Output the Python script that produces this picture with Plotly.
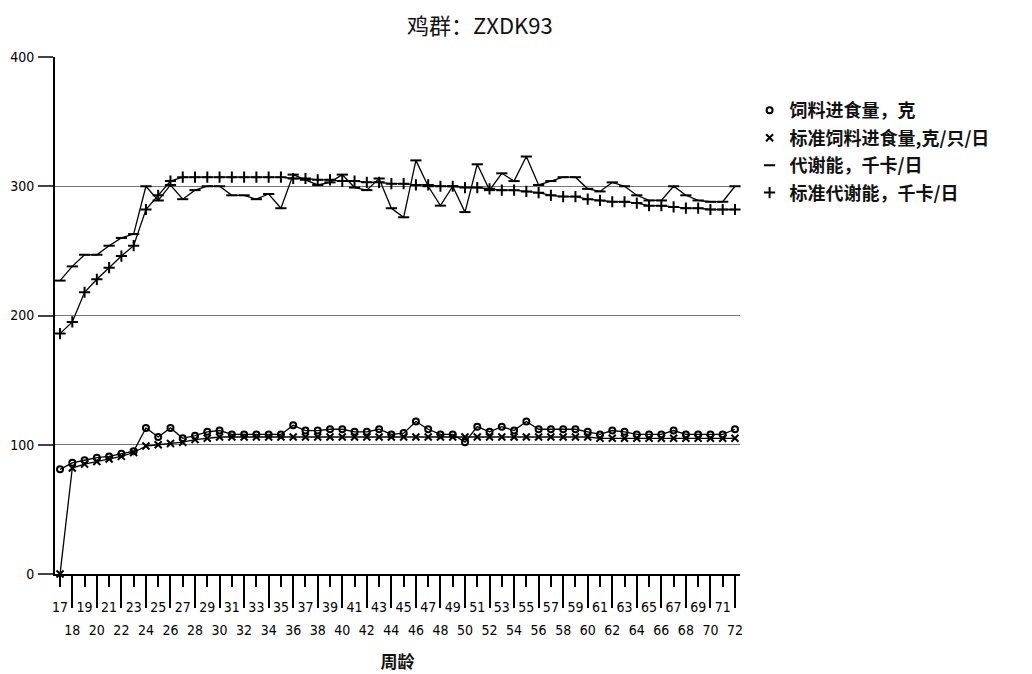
import plotly.graph_objects as go

weeks = list(range(17, 73))

feed_intake = [81, 86, 88, 90, 91, 93, 95, 113, 106, 113, 105, 107, 110, 111, 108, 108, 108, 108, 108,
               115, 111, 111, 112, 112, 110, 110, 112, 108, 109, 118, 112, 108, 108, 102, 114, 110,
               114, 111, 118, 112, 112, 112, 112, 110, 108, 111, 110, 108, 108, 108, 111, 108, 108,
               108, 108, 112]
std_feed = [0, 82, 85, 87, 89, 91, 94, 99, 100, 101, 102, 104, 105, 106, 106, 106, 106, 106, 106,
            106, 106, 106, 106, 106, 106, 106, 106, 106, 106, 106, 106, 106, 106, 106, 106, 106,
            106, 106, 106, 106, 106, 106, 106, 106, 105, 105, 105, 105, 105, 105, 105, 105, 105,
            105, 105, 105]
me = [227, 238, 247, 247, 254, 260, 263, 300, 289, 301, 290, 297, 300, 300, 293, 293, 290, 294, 283,
      309, 305, 301, 303, 309, 299, 297, 306, 283, 276, 320, 300, 285, 300, 280, 317, 297,
      310, 304, 323, 301, 304, 307, 307, 298, 296, 303, 300, 293, 289, 289, 300, 293, 289,
      288, 288, 300]
std_me = [186, 195, 218, 228, 237, 246, 254, 282, 293, 304, 307, 307, 307, 307, 307, 307, 307, 307, 307,
          306, 306, 305, 305, 304, 304, 303, 303, 302, 302, 301, 301, 300, 300, 299, 299, 298,
          297, 297, 296, 295, 293, 292, 292, 290, 289, 288, 288, 287, 285, 285, 284, 283, 283,
          282, 282, 282]

series_names = ["饲料进食量，克", "标准饲料进食量,克/只/日", "代谢能，千卡/日", "标准代谢能，千卡/日"]
series_values = [feed_intake, std_feed, me, std_me]
series_symbols = ["circle-open", "x-thin-open", "line-ew-open", "cross-thin-open"]
series_sizes = [6, 7, 8, 8]

y_ticks = [0, 100, 200, 300, 400]
odd_weeks = weeks[::2]
even_weeks = weeks[1::2]

narrow = "Liberation Sans Narrow, DejaVu Sans Condensed, Arial Narrow, sans-serif"
cjk = "Noto Sans CJK SC, sans-serif"

fig = go.Figure()
for name, vals, sym, sz in zip(series_names, series_values, series_symbols, series_sizes):
    fig.add_trace(go.Scatter(
        x=weeks, y=vals, mode="lines+markers", name=name, showlegend=False,
        line=dict(color="black", width=1.3),
        marker=dict(symbol=sym, size=sz, color="black", line=dict(color="black", width=2)),
        cliponaxis=False,
    ))
# legend entries (glyph only)
for i, (name, sym, sz) in enumerate(zip(series_names, series_symbols, series_sizes)):
    fig.add_trace(go.Scatter(
        x=[None], y=[None], mode="markers", name=name, legendgroup=f"g{i}",
        marker=dict(symbol=sym, size=sz, color="black", line=dict(color="black", width=2)),
    ))
# carrier for the second (even-week) tick axis
fig.add_trace(go.Scatter(x=weeks, y=[None] * len(weeks), xaxis="x2", showlegend=False,
                         hoverinfo="skip", mode="lines"))

x_range = [16.59, 72.41]

fig.update_layout(
    width=1032, height=674,
    paper_bgcolor="white", plot_bgcolor="white",
    margin=dict(l=55, r=292, t=57, b=100, autoexpand=False),
    title=dict(text="鸡群：ZXDK93", x=0.465, xref="container", xanchor="center",
               y=1 - 26 / 674, yref="container", yanchor="middle",
               font=dict(family=cjk, size=22, color="#111")),
    showlegend=True,
    legend=dict(x=1.014, xanchor="left", y=0.932, yanchor="top",
                traceorder="grouped", tracegroupgap=1,
                font=dict(family=cjk, size=18, color="#111", weight="bold"),
                bgcolor="rgba(0,0,0,0)", itemwidth=30),
    xaxis=dict(
        range=x_range, tickvals=odd_weeks, ticktext=[str(w) for w in odd_weeks],
        ticks="outside", ticklen=11, tickwidth=1.5, tickcolor="black",
        showline=True, linecolor="black", linewidth=2,
        showgrid=False, zeroline=False, automargin=False,
        tickfont=dict(family=narrow, size=14, color="black"),
        ticklabelstandoff=8,
    ),
    xaxis2=dict(
        range=x_range, overlaying="x", anchor="y", side="bottom",
        tickvals=even_weeks, ticktext=[str(w) for w in even_weeks],
        ticks="outside", ticklen=33, tickwidth=1.5, tickcolor="black",
        showline=False, showgrid=False, zeroline=False, automargin=False,
        tickfont=dict(family=narrow, size=14, color="black"),
        ticklabelstandoff=10,
        title=dict(text="周龄", standoff=19,
                   font=dict(family=cjk, size=17, color="#111", weight="bold")),
    ),
    yaxis=dict(
        range=[0, 400], tickvals=y_ticks, ticktext=[str(v) for v in y_ticks],
        ticks="outside", ticklen=15, tickwidth=1.5, tickcolor="#444",
        showline=True, linecolor="black", linewidth=2,
        showgrid=True, gridcolor="#777", gridwidth=1.3, zeroline=False, automargin=False,
        tickfont=dict(family=narrow, size=14, color="black"),
        ticklabelstandoff=1,
    ),
)

fig.write_html("out.html", config={"displayModeBar": False},
               post_script="document.body.style.margin='0';document.body.style.overflow='hidden';")
